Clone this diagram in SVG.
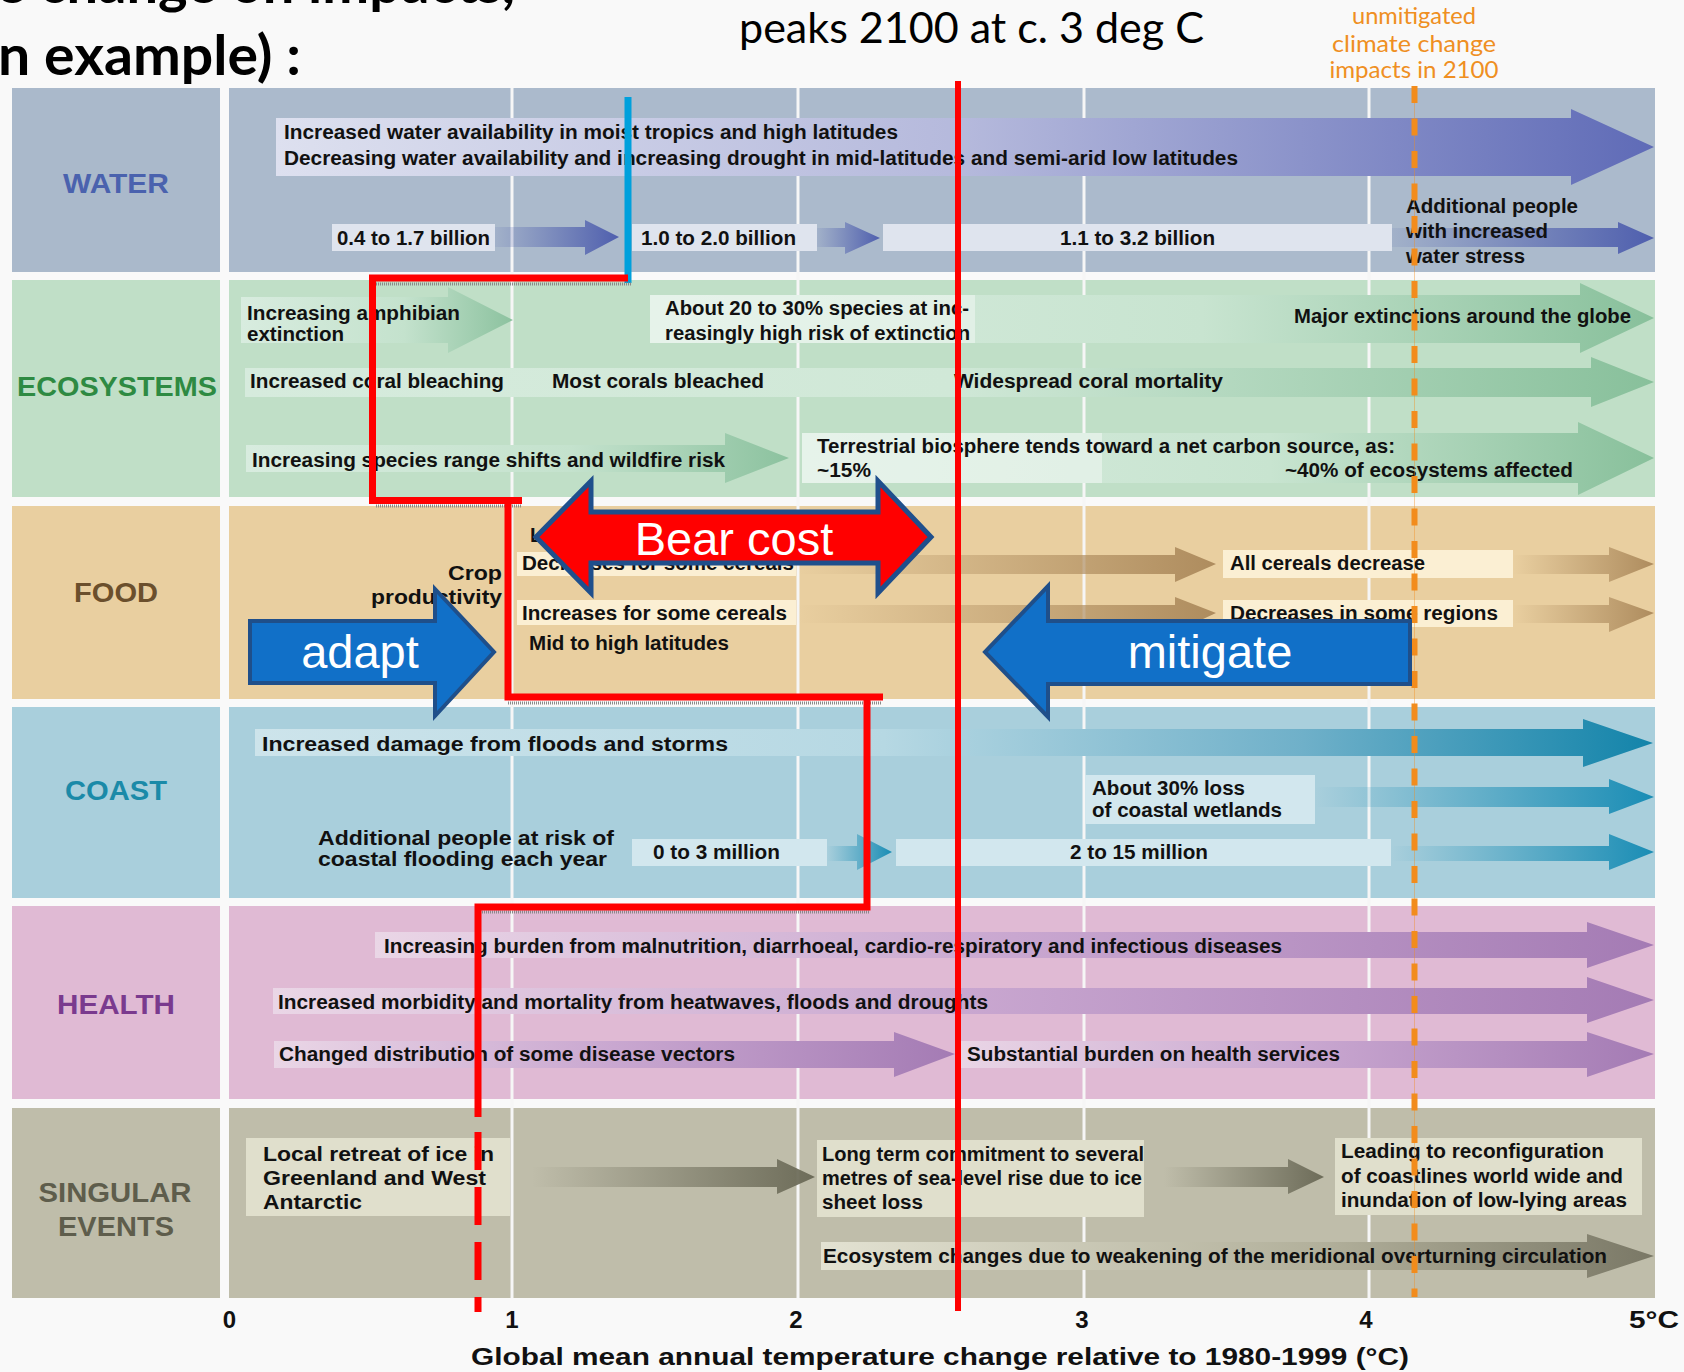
<svg xmlns="http://www.w3.org/2000/svg" width="1684" height="1372" viewBox="0 0 1684 1372">
<defs>
<style>
.t{font-family:"Liberation Sans",Arial,sans-serif;font-weight:bold;font-size:20px;fill:#111}
.lbl{font-family:"Liberation Sans",Arial,sans-serif;font-weight:bold;font-size:28px;text-anchor:middle}
.ax{font-family:"Liberation Sans",Arial,sans-serif;font-weight:bold;font-size:24px;fill:#111}
.big{font-family:"Liberation Sans",Arial,sans-serif;font-size:47px;fill:#fff;text-anchor:middle}
.cal{font-family:Lato,"Open Sans",sans-serif}
.grid{stroke:#f6f6f6;stroke-width:3}
.red{fill:none;stroke:#ff0000;stroke-width:7;stroke-linejoin:miter}
.shadow{fill:none;stroke:#8a8a8a;stroke-width:3;stroke-dasharray:1 1}
.box{fill:#ffffff;fill-opacity:0.4}
</style>
<linearGradient id="gW" x1="0" y1="0" x2="1" y2="0"><stop offset="0" stop-color="#dde0ef"/><stop offset="0.5" stop-color="#b5b9dc"/><stop offset="1" stop-color="#5f6bb7"/></linearGradient>
<linearGradient id="gWs" x1="0" y1="0" x2="1" y2="0"><stop offset="0" stop-color="#5060ae" stop-opacity="0.1"/><stop offset="1" stop-color="#4f5fae"/></linearGradient>
<linearGradient id="gE" x1="0" y1="0" x2="1" y2="0"><stop offset="0" stop-color="#d6ebdd"/><stop offset="0.55" stop-color="#c8e4d0"/><stop offset="1" stop-color="#88c09b"/></linearGradient>
<linearGradient id="gE3" x1="0" y1="0" x2="1" y2="0"><stop offset="0" stop-color="#d6ebdd"/><stop offset="0.5" stop-color="#d0e8d7"/><stop offset="1" stop-color="#88c09b"/></linearGradient>
<linearGradient id="gEs" x1="0" y1="0" x2="1" y2="0"><stop offset="0" stop-color="#d8ecdf"/><stop offset="0.6" stop-color="#c4e2cd"/><stop offset="1" stop-color="#8cc29f"/></linearGradient>
<linearGradient id="gF" x1="0" y1="0" x2="1" y2="0"><stop offset="0" stop-color="#b08d5f" stop-opacity="0"/><stop offset="1" stop-color="#ae8c5e"/></linearGradient>
<linearGradient id="gC" x1="0" y1="0" x2="1" y2="0"><stop offset="0" stop-color="#cde4eb"/><stop offset="0.45" stop-color="#b6d8e3"/><stop offset="0.75" stop-color="#6fb0c9"/><stop offset="1" stop-color="#1384aa"/></linearGradient>
<linearGradient id="gCs" x1="0" y1="0" x2="1" y2="0"><stop offset="0" stop-color="#1a8db5" stop-opacity="0"/><stop offset="1" stop-color="#1a8db5"/></linearGradient>
<linearGradient id="gH" x1="0" y1="0" x2="1" y2="0"><stop offset="0" stop-color="#ead6e6"/><stop offset="0.5" stop-color="#c9a7d0"/><stop offset="1" stop-color="#a47bb4"/></linearGradient>
<linearGradient id="gS" x1="0" y1="0" x2="1" y2="0"><stop offset="0" stop-color="#6d6c59" stop-opacity="0"/><stop offset="1" stop-color="#6d6c59"/></linearGradient>
<linearGradient id="gS4" x1="0" y1="0" x2="1" y2="0"><stop offset="0" stop-color="#e3e2d2"/><stop offset="0.6" stop-color="#b2b09b"/><stop offset="1" stop-color="#7a7866"/></linearGradient>
</defs>

<rect x="0" y="0" width="1684" height="1372" fill="#f9f9f9"/>

<g id="title">
<text class="cal" x="-4" y="3" font-size="56" font-weight="bold" fill="#000">e change on impacts,</text>
<text class="cal" x="-2" y="75" font-size="56" font-weight="bold" fill="#000" textLength="303" lengthAdjust="spacingAndGlyphs">n example) :</text>
<text class="cal" x="739" y="43" font-size="42" fill="#000" textLength="465" lengthAdjust="spacingAndGlyphs">peaks 2100 at c. 3 deg C</text>
<g fill="#ef8f22" font-size="23" text-anchor="middle" class="cal">
<text x="1414" y="24" textLength="124" lengthAdjust="spacingAndGlyphs">unmitigated</text>
<text x="1414" y="52" textLength="164" lengthAdjust="spacingAndGlyphs">climate change</text>
<text x="1414" y="78" textLength="169" lengthAdjust="spacingAndGlyphs">impacts in 2100</text>
</g>
</g>

<!-- row backgrounds -->
<g id="rows">
<rect x="12" y="88" width="208" height="184" fill="#aab9cb"/><rect x="229" y="88" width="1426" height="184" fill="#abbacc"/>
<rect x="12" y="280" width="208" height="217" fill="#c0dfc7"/><rect x="229" y="280" width="1426" height="217" fill="#c0dfc7"/>
<rect x="12" y="506" width="208" height="193" fill="#e9cfa0"/><rect x="229" y="506" width="1426" height="193" fill="#e9cfa0"/>
<rect x="12" y="707" width="208" height="191" fill="#a9cfdc"/><rect x="229" y="707" width="1426" height="191" fill="#a9cfdc"/>
<rect x="12" y="906" width="208" height="193" fill="#e0bad4"/><rect x="229" y="906" width="1426" height="193" fill="#e0bad4"/>
<rect x="12" y="1108" width="208" height="190" fill="#bfbdaa"/><rect x="229" y="1108" width="1426" height="190" fill="#bfbdaa"/>
<line class="grid" x1="512" y1="88" x2="512" y2="1298"/>
<line class="grid" x1="798" y1="88" x2="798" y2="1298"/>
<line class="grid" x1="1084" y1="88" x2="1084" y2="1298"/>
<line class="grid" x1="1369" y1="88" x2="1369" y2="1298"/>
</g>

<g id="labels">
<text class="lbl" x="116" y="193" fill="#4a62ae" textLength="106" lengthAdjust="spacingAndGlyphs">WATER</text>
<text class="lbl" x="117" y="396" fill="#2e8a42" textLength="200" lengthAdjust="spacingAndGlyphs">ECOSYSTEMS</text>
<text class="lbl" x="116" y="602" fill="#6b4f2c" textLength="84" lengthAdjust="spacingAndGlyphs">FOOD</text>
<text class="lbl" x="116" y="800" fill="#1b8aa8" textLength="102" lengthAdjust="spacingAndGlyphs">COAST</text>
<text class="lbl" x="116" y="1014" fill="#7a3a8e" textLength="118" lengthAdjust="spacingAndGlyphs">HEALTH</text>
<text class="lbl" x="115" y="1202" fill="#5e5d4c" textLength="153" lengthAdjust="spacingAndGlyphs">SINGULAR</text>
<text class="lbl" x="116" y="1236" fill="#5e5d4c" textLength="116" lengthAdjust="spacingAndGlyphs">EVENTS</text>
</g>

<g id="water">
<path d="M276 118 H1571 V109 L1654 147 L1571 185 V176 H276 Z" fill="url(#gW)"/>
<rect x="332" y="224" width="163" height="27" fill="#dfe4ee"/>
<path d="M495 227 H585 V220 L619 237 L585 255 V247 H495 Z" fill="url(#gWs)"/>
<rect x="632" y="224" width="185" height="27" fill="#dfe4ee"/>
<path d="M817 228 H845 V222 L880 238 L845 254 V247 H817 Z" fill="url(#gWs)"/>
<rect x="883" y="224" width="509" height="27" fill="#dfe4ee"/>
<path d="M1392 228 H1618 V222 L1654 238 L1618 254 V247 H1392 Z" fill="url(#gWs)"/>
<text class="t" x="284" y="139" textLength="614" lengthAdjust="spacingAndGlyphs">Increased water availability in moist tropics and high latitudes</text>
<text class="t" x="284" y="165" textLength="954" lengthAdjust="spacingAndGlyphs">Decreasing water availability and increasing drought in mid-latitudes and semi-arid low latitudes</text>
<text class="t" x="337" y="245" textLength="153" lengthAdjust="spacingAndGlyphs">0.4 to 1.7 billion</text>
<text class="t" x="641" y="245" textLength="155" lengthAdjust="spacingAndGlyphs">1.0 to 2.0 billion</text>
<text class="t" x="1060" y="245" textLength="155" lengthAdjust="spacingAndGlyphs">1.1 to 3.2 billion</text>
<text class="t" x="1406" y="213" textLength="172" lengthAdjust="spacingAndGlyphs">Additional people</text>
<text class="t" x="1406" y="238" textLength="142" lengthAdjust="spacingAndGlyphs">with increased</text>
<text class="t" x="1406" y="263" textLength="119" lengthAdjust="spacingAndGlyphs">water stress</text>
</g>

<g id="ecosystems">
<path d="M241 297 H448 V287 L513 320 L448 353 V343 H241 Z" fill="url(#gEs)"/>
<path d="M650 295 H1580 V283 L1654 318 L1580 353 V343 H650 Z" fill="url(#gE)"/>
<rect class="box" x="650" y="295" width="325" height="48"/>
<path d="M245 368 H1591 V357 L1654 382 L1591 407 V397 H245 Z" fill="url(#gE3)"/>
<path d="M246 445 H725 V433 L789 458 L725 483 V472 H246 Z" fill="url(#gEs)"/>
<path d="M802 433 H1578 V422 L1654 458 L1578 495 V483 H802 Z" fill="url(#gE)"/>
<rect class="box" x="802" y="433" width="300" height="50"/>
<text class="t" x="247" y="320" textLength="213" lengthAdjust="spacingAndGlyphs">Increasing amphibian</text>
<text class="t" x="247" y="341" textLength="97" lengthAdjust="spacingAndGlyphs">extinction</text>
<text class="t" x="665" y="315" textLength="304" lengthAdjust="spacingAndGlyphs">About 20 to 30% species at inc-</text>
<text class="t" x="665" y="340" textLength="305" lengthAdjust="spacingAndGlyphs">reasingly high risk of extinction</text>
<text class="t" x="1294" y="323" textLength="337" lengthAdjust="spacingAndGlyphs">Major extinctions around the globe</text>
<text class="t" x="250" y="388" textLength="254" lengthAdjust="spacingAndGlyphs">Increased coral bleaching</text>
<text class="t" x="552" y="388" textLength="212" lengthAdjust="spacingAndGlyphs">Most corals bleached</text>
<text class="t" x="954" y="388" textLength="269" lengthAdjust="spacingAndGlyphs">Widespread coral mortality</text>
<text class="t" x="252" y="467" textLength="473" lengthAdjust="spacingAndGlyphs">Increasing species range shifts and wildfire risk</text>
<text class="t" x="817" y="453" textLength="578" lengthAdjust="spacingAndGlyphs">Terrestrial biosphere tends toward a net carbon source, as:</text>
<text class="t" x="817" y="477" textLength="54" lengthAdjust="spacingAndGlyphs">~15%</text>
<text class="t" x="1285" y="477" textLength="288" lengthAdjust="spacingAndGlyphs">~40% of ecosystems affected</text>
</g>

<g id="food">
<rect x="517" y="552" width="279" height="24" fill="#fbefd3"/>
<rect x="517" y="600" width="279" height="25" fill="#fbefd3"/>
<path d="M796 555 H1175 V547 L1216 564 L1175 582 V574 H796 Z" fill="url(#gF)"/>
<path d="M1513 555 H1609 V547 L1654 564 L1609 582 V574 H1513 Z" fill="url(#gF)"/>
<path d="M796 605 H1175 V597 L1216 613 L1175 632 V623 H796 Z" fill="url(#gF)"/>
<path d="M1513 605 H1609 V597 L1654 613 L1609 632 V623 H1513 Z" fill="url(#gF)"/>
<rect x="1223" y="550" width="290" height="28" fill="#fbefd3"/>
<rect x="1223" y="600" width="290" height="27" fill="#fbefd3"/>
<text class="t" x="502" y="580" text-anchor="end" textLength="54" lengthAdjust="spacingAndGlyphs">Crop</text>
<text class="t" x="502" y="604" text-anchor="end" textLength="131" lengthAdjust="spacingAndGlyphs">productivity</text>
<text class="t" x="530" y="542">L</text>
<text class="t" x="522" y="570" textLength="272" lengthAdjust="spacingAndGlyphs">Decreases for some cereals</text>
<text class="t" x="522" y="620" textLength="265" lengthAdjust="spacingAndGlyphs">Increases for some cereals</text>
<text class="t" x="529" y="650" textLength="200" lengthAdjust="spacingAndGlyphs">Mid to high latitudes</text>
<text class="t" x="1230" y="570" textLength="195" lengthAdjust="spacingAndGlyphs">All cereals decrease</text>
<text class="t" x="1230" y="620" textLength="268" lengthAdjust="spacingAndGlyphs">Decreases in some regions</text>
</g>

<g id="coast">
<path d="M255 729 H1583 V719 L1653 743 L1583 767 V756 H255 Z" fill="url(#gC)"/>
<rect x="1085" y="775" width="230" height="49" fill="#d2e7ee"/>
<path d="M1315 787 H1609 V779 L1654 797 L1609 814 V807 H1315 Z" fill="url(#gCs)"/>
<rect x="632" y="839" width="195" height="27" fill="#d2e7ee"/>
<path d="M827 846 H857 V834 L892 852 L857 870 V861 H827 Z" fill="url(#gCs)"/>
<rect x="896" y="839" width="495" height="27" fill="#d2e7ee"/>
<path d="M1391 846 H1609 V834 L1654 852 L1609 870 V861 H1391 Z" fill="url(#gCs)"/>
<text class="t" x="262" y="751" textLength="466" lengthAdjust="spacingAndGlyphs">Increased damage from floods and storms</text>
<text class="t" x="1092" y="795" textLength="153" lengthAdjust="spacingAndGlyphs">About 30% loss</text>
<text class="t" x="1092" y="817" textLength="190" lengthAdjust="spacingAndGlyphs">of coastal wetlands</text>
<text class="t" x="318" y="845" textLength="296" lengthAdjust="spacingAndGlyphs">Additional people at risk of</text>
<text class="t" x="318" y="866" textLength="289" lengthAdjust="spacingAndGlyphs">coastal flooding each year</text>
<text class="t" x="653" y="859" textLength="127" lengthAdjust="spacingAndGlyphs">0 to 3 million</text>
<text class="t" x="1070" y="859" textLength="138" lengthAdjust="spacingAndGlyphs">2 to 15 million</text>
</g>

<g id="health">
<path d="M375 932 H1587 V922 L1654 945 L1587 968 V958 H375 Z" fill="url(#gH)"/>
<path d="M273 988 H1587 V977 L1654 1000 L1587 1023 V1014 H273 Z" fill="url(#gH)"/>
<path d="M274 1041 H894 V1032 L955 1054 L894 1077 V1068 H274 Z" fill="url(#gH)"/>
<path d="M955 1041 H1587 V1032 L1654 1054 L1587 1077 V1068 H955 Z" fill="url(#gH)"/>
<text class="t" x="384" y="953" textLength="898" lengthAdjust="spacingAndGlyphs">Increasing burden from malnutrition, diarrhoeal, cardio-respiratory and infectious diseases</text>
<text class="t" x="278" y="1009" textLength="710" lengthAdjust="spacingAndGlyphs">Increased morbidity and mortality from heatwaves, floods and droughts</text>
<text class="t" x="279" y="1061" textLength="456" lengthAdjust="spacingAndGlyphs">Changed distribution of some disease vectors</text>
<text class="t" x="967" y="1061" textLength="373" lengthAdjust="spacingAndGlyphs">Substantial burden on health services</text>
</g>

<g id="singular">
<rect x="246" y="1138" width="264" height="78" fill="#e0dfcc"/>
<path d="M532 1167 H777 V1159 L815 1177 L777 1194 V1187 H532 Z" fill="url(#gS)"/>
<rect x="817" y="1140" width="327" height="77" fill="#e0dfcc"/>
<path d="M1164 1167 H1288 V1159 L1324 1177 L1288 1194 V1187 H1164 Z" fill="url(#gS)"/>
<rect x="1335" y="1138" width="307" height="77" fill="#e0dfcc"/>
<path d="M821 1242 H1587 V1234 L1654 1256 L1587 1278 V1270 H821 Z" fill="url(#gS4)"/>
<text class="t" x="263" y="1161" textLength="231" lengthAdjust="spacingAndGlyphs">Local retreat of ice in</text>
<text class="t" x="263" y="1185" textLength="223" lengthAdjust="spacingAndGlyphs">Greenland and West</text>
<text class="t" x="263" y="1209" textLength="99" lengthAdjust="spacingAndGlyphs">Antarctic</text>
<text class="t" x="822" y="1161" textLength="322" lengthAdjust="spacingAndGlyphs">Long term commitment to several</text>
<text class="t" x="822" y="1185" textLength="320" lengthAdjust="spacingAndGlyphs">metres of sea-level rise due to ice</text>
<text class="t" x="822" y="1209" textLength="101" lengthAdjust="spacingAndGlyphs">sheet loss</text>
<text class="t" x="1341" y="1158" textLength="263" lengthAdjust="spacingAndGlyphs">Leading to reconfiguration</text>
<text class="t" x="1341" y="1183" textLength="282" lengthAdjust="spacingAndGlyphs">of coastlines world wide and</text>
<text class="t" x="1341" y="1207" textLength="286" lengthAdjust="spacingAndGlyphs">inundation of low-lying areas</text>
<text class="t" x="823" y="1263" textLength="784" lengthAdjust="spacingAndGlyphs">Ecosystem changes due to weakening of the meridional overturning circulation</text>
</g>

<g id="axis">
<text class="ax" x="229.5" y="1328" text-anchor="middle">0</text>
<text class="ax" x="512" y="1328" text-anchor="middle">1</text>
<text class="ax" x="796" y="1328" text-anchor="middle">2</text>
<text class="ax" x="1082" y="1328" text-anchor="middle">3</text>
<text class="ax" x="1366" y="1328" text-anchor="middle">4</text>
<text class="ax" x="1629" y="1328" textLength="50" lengthAdjust="spacingAndGlyphs">5°C</text>
<text class="ax" x="471" y="1365" textLength="938" lengthAdjust="spacingAndGlyphs">Global mean annual temperature change relative to 1980-1999 (°C)</text>
</g>

<g id="connectors">
<line x1="1414.5" y1="86" x2="1414.5" y2="1297" stroke="#f28c1c" stroke-width="1" stroke-opacity="0.4"/>
<line x1="1414.5" y1="86" x2="1414.5" y2="1297" stroke="#f28c1c" stroke-width="6" stroke-dasharray="17 15.5"/>
<line x1="628" y1="97" x2="628" y2="283" stroke="#00a0dc" stroke-width="7"/>
<line class="shadow" x1="376" y1="284" x2="631" y2="284"/>
<line class="shadow" x1="376" y1="506" x2="522" y2="506"/>
<line class="shadow" x1="508" y1="703" x2="882" y2="703"/>
<line class="shadow" x1="478" y1="912" x2="869" y2="912"/>
<path class="red" d="M628 278 H372.5 V500.5 H522"/>
<path class="red" d="M508 500.5 V697 H883"/>
<path class="red" d="M867 697 V907 H478 V1117"/>
<line x1="478" y1="1132" x2="478" y2="1312" stroke="#ff0000" stroke-width="7" stroke-dasharray="38 17"/>
<line x1="958" y1="81" x2="958" y2="1311" stroke="#ff0000" stroke-width="6"/>
</g>

<g id="adapt">
<path d="M250 621 H435 V589 L494 652 L435 716 V683 H250 Z" fill="#1170c8" stroke="#1f4f8a" stroke-width="4"/>
<text class="big" x="360" y="668">adapt</text>
</g>
<g id="mitigate">
<path d="M1410 621 H1048 V586 L985 652 L1048 717 V684 H1410 Z" fill="#1170c8" stroke="#1f4f8a" stroke-width="4"/>
<text class="big" x="1210" y="668">mitigate</text>
</g>
<g id="bearcost">
<path d="M536 537 L591 481 V512 H878 V481 L931 537 L878 593 V563 H591 V593 Z" fill="#ff0000" stroke="#1f4f8c" stroke-width="5"/>
<text class="big" x="734" y="555">Bear cost</text>
</g>
</svg>
